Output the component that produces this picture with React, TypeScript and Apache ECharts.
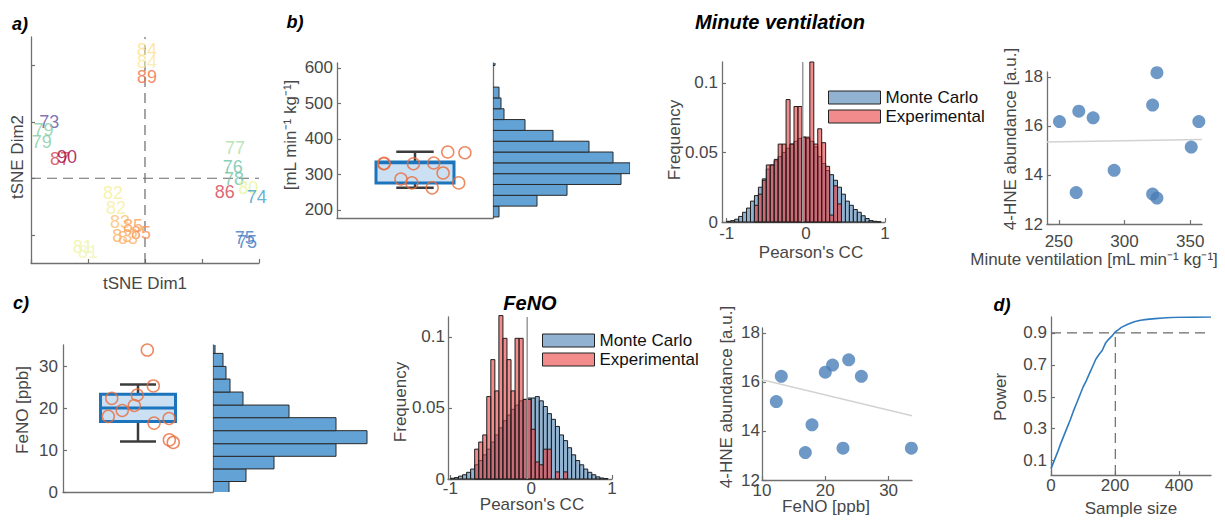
import React, { useEffect, useRef } from "react";
import * as echarts from "echarts";

const FONT = "'Liberation Sans', Arial, Helvetica, sans-serif";
const AXIS_COLOR = "#707070";
const TEXT_COLOR = "#474747";

// ---------- Panel a: tSNE embedding (labels are subject numbers) ----------
const tsneLabels = ["84","84","89","73","79","79","87","90","82","82","83","83","85","85","83","81","81","77","76","78","86","80","74","75","75"];
const tsneX = [2.035,2.035,2.035,0.32,0.22,0.19,0.51,0.63,1.44,1.49,1.56,1.6,1.79,1.93,1.7,0.91,1.0,3.58,3.54,3.56,3.4,3.81,3.96,3.75,3.79];
const tsneY = [3.27,3.06,2.79,2.0,1.85,1.64,1.34,1.38,0.74,0.47,0.23,-0.02,0.155,0.03,-0.06,-0.22,-0.31,1.54,1.2,0.99,0.76,0.83,0.67,-0.06,-0.13];
const tsneColors = ["#FEE08B","#FDE79C","#F46D43","#5E4FA2","#80CBA3","#80CBA3","#D53E4F","#9E0142","#F5EE9C","#F5EE9C","#FDBF6F","#FDAE61","#FB9D59","#F98E52","#FDB366","#EEF3A6","#F1F5B0","#ABDDA4","#66C2A5","#6CC4A4","#D53E4F","#E6F598","#3E9DC8","#3A78C2","#3A78C2"];
const tsneCrossX = 2;
const tsneCrossY = 1;

// ---------- Panel b: minute ventilation ----------
const mvBoxStats = [262, 276, 333, 335, 364]; // min, q1, median, q3, max
const mvPoints = [330, 331, 287, 276, 330, 262, 332, 304, 363, 276, 361];
const mvJitter = [0.30, 0.302, 0.41, 0.48, 0.49, 0.61, 0.62, 0.68, 0.71, 0.78, 0.82];
const mvHistEdges = [180, 210.5, 241, 271.5, 302, 332.5, 363, 393.5, 424, 454.5, 485, 515.5, 546, 576.5, 607, 637.5];
const mvHistCounts = [6, 44, 74, 128, 137, 120, 96, 60, 32, 11, 8, 6, 0, 0, 2];
const mvTicks = [200, 300, 400, 500, 600];

const ccEdges = [-1,-0.95,-0.9,-0.85,-0.8,-0.75,-0.7,-0.65,-0.6,-0.55,-0.5,-0.45,-0.4,-0.35,-0.3,-0.25,-0.2,-0.15,-0.1,-0.05,0,0.05,0.1,0.15,0.2,0.25,0.3,0.35,0.4,0.45,0.5,0.55,0.6,0.65,0.7,0.75,0.8,0.85,0.9,0.95,1];
const ccTicks = [-1, 0, 1];
const freqTicks = [0, 0.05, 0.1];
const mvMonteCarlo = [0.0005,0.001,0.002,0.004,0.007,0.010,0.015,0.019,0.025,0.031,0.038,0.041,0.044,0.047,0.050,0.053,0.056,0.058,0.060,0.061,0.060,0.058,0.054,0.047,0.042,0.037,0.034,0.030,0.025,0.020,0.015,0.012,0.009,0.007,0.0045,0.0025,0.001,0.0005,0.0002,0];
const mvExperimental = [0,0,0,0,0,0,0,0.012,0.020,0.030,0.041,0.041,0.045,0.056,0.056,0.088,0.056,0.083,0.083,0.061,0.061,0.115,0.056,0.067,0.057,0.040,0.005,0.026,0.013,0,0,0,0,0,0,0,0,0,0,0];
const mvObservedR = -0.04;

const mvScatterX = [250.5, 265.2, 276.1, 263.2, 292.1, 321.4, 324.7, 321.4, 324.7, 350.8, 356.6];
const mvScatterY = [16.18, 16.6, 16.33, 13.28, 14.19, 16.85, 18.17, 13.22, 13.06, 15.14, 16.18];
const mvFit = [[241, 15.34], [359, 15.45]];
const mvScatterTicks = [250, 300, 350];
const hneTicks = [12, 14, 16, 18];

// ---------- Panel c: FeNO ----------
const feBoxStats = [12.0, 16.8, 20.0, 23.3, 25.6];
const fePoints = [33.8, 25.25, 22.3, 23.1, 19.4, 20.6, 18.0, 16.4, 17.5, 12.4, 11.8];
const feJitter = [0.562, 0.602, 0.325, 0.495, 0.395, 0.475, 0.302, 0.607, 0.707, 0.709, 0.735];
const feHistEdges = [-0.5, 2.5, 5.5, 8.5, 11.5, 14.6, 17.7, 20.7, 23.8, 26.9, 29.9, 33.0, 36.0];
const feHistCounts = [16, 33, 61, 123, 154, 123, 76, 30, 17, 13, 10, 2];
const feTicks = [0, 10, 20, 30];

const feMonteCarlo = [0.0005,0.001,0.002,0.003,0.0047,0.007,0.010,0.013,0.017,0.021,0.026,0.031,0.036,0.041,0.045,0.049,0.052,0.055,0.056,0.057,0.057,0.058,0.055,0.051,0.046,0.042,0.037,0.031,0.027,0.022,0.017,0.013,0.010,0.007,0.0047,0.003,0.0015,0.0007,0.0003,0];
const feExperimental = [0,0,0,0,0,0,0.021,0.026,0.031,0.058,0.084,0.062,0.115,0.099,0.084,0.062,0.099,0.099,0.056,0.056,0.035,0.012,0.010,0.021,0.021,0,0.005,0,0.005,0,0,0,0,0,0,0,0,0,0,0];
const feObservedR = -0.05;

const feScatterX = [18.15, 13.05, 12.26, 20.0, 21.15, 23.7, 25.7, 17.9, 16.85, 22.8, 33.6];
const feScatterY = [18.27, 16.23, 15.2, 16.4, 16.69, 16.9, 16.23, 14.25, 13.12, 13.3, 13.3];
const feFit = [[10, 16.09], [33.7, 14.62]];
const feScatterTicks = [10, 20, 30];

// ---------- Panel d: power analysis ----------
const powerN = [0,10,20,30,40,50,60,70,80,90,100,110,120,130,140,150,160,170,180,190,200,210,220,240,260,280,300,325,350,375,400,450,500];
const powerVal = [0.05,0.10,0.15,0.205,0.255,0.305,0.355,0.41,0.46,0.51,0.56,0.60,0.645,0.69,0.735,0.765,0.79,0.835,0.86,0.88,0.905,0.92,0.935,0.955,0.97,0.98,0.985,0.99,0.994,0.997,0.998,0.999,1.0];
const powerTarget = 0.9;
const powerSampleSize = 201;
const powerTicks = [0.1, 0.3, 0.5, 0.7, 0.9];
const sampleTicks = [0, 200, 400];

// ---------- styling ----------
const BLUE_FILL = "rgba(72,127,177,0.6)";
const RED_FILL = "rgba(233,63,63,0.6)";
const BLUE_LEGEND = "#91B2D0";
const RED_LEGEND = "#F28C8C";
const MARGINAL_FILL = "#62A2D5";
const DOT = "#4A7EB6";
const ORANGE = "#EA6B3C";
const BOX_FILL = "#CBE0F2";
const BOX_EDGE = "#1C75BC";
const WHISKER = "#3C3C3C";

type AxOpts = {
  grid: number; min: number; max: number; labels?: number[]; ticks?: number[];
  margin?: number; interval?: number; hidden?: boolean;
};
function axis(o: AxOpts): any {
  const tickValues = o.ticks || o.labels;
  return {
    type: "value",
    gridIndex: o.grid,
    min: o.min,
    max: o.max,
    show: !o.hidden,
    ...(o.interval ? { interval: o.interval } : {}),
    axisLine: { show: true, onZero: false, lineStyle: { color: AXIS_COLOR, width: 1.3 } },
    axisTick: tickValues || o.interval
      ? { show: true, inside: true, length: 4, lineStyle: { color: AXIS_COLOR, width: 1.2 }, ...(tickValues ? { customValues: tickValues } : {}) }
      : { show: false },
    axisLabel: o.labels
      ? { show: true, customValues: o.labels, fontSize: 17, color: TEXT_COLOR, fontFamily: FONT, margin: o.margin ?? 5 }
      : { show: false },
    splitLine: { show: false },
  };
}

function boxRender(params: any, api: any) {
  const mn = api.value(0), q1 = api.value(1), md = api.value(2), q3 = api.value(3), mx = api.value(4);
  const c = (x: number, y: number) => api.coord([x, y]);
  const boxL = 0.25, boxR = 0.75, capL = 0.38, capR = 0.62, mid = 0.5;
  const a = c(boxL, q3), b = c(boxR, q1);
  const wl = { stroke: WHISKER, lineWidth: 2.5 };
  const line = (p: number[], q: number[], style: any) => ({ type: "line", shape: { x1: p[0], y1: p[1], x2: q[0], y2: q[1] }, style });
  return {
    type: "group",
    children: [
      line(c(mid, q3), c(mid, mx), wl),
      line(c(capL, mx), c(capR, mx), wl),
      line(c(mid, q1), c(mid, mn), wl),
      line(c(capL, mn), c(capR, mn), wl),
      { type: "rect", shape: { x: a[0], y: a[1], width: b[0] - a[0], height: b[1] - a[1] }, style: { fill: BOX_FILL, stroke: BOX_EDGE, lineWidth: 3 } },
      line(c(boxL, md), c(boxR, md), { stroke: BOX_EDGE, lineWidth: 3 }),
    ],
  };
}

const vHistRender = (fill: string) => (params: any, api: any) => {
  const v = api.value(2);
  if (!v) return null;
  const p0 = api.coord([api.value(0), 0]);
  const p1 = api.coord([api.value(1), v]);
  return {
    type: "rect",
    shape: { x: p0[0], y: p1[1], width: p1[0] - p0[0], height: p0[1] - p1[1] },
    style: { fill, stroke: "#1E1E1E", lineWidth: 1 },
  };
};

function hHistRender(params: any, api: any) {
  const n = api.value(2);
  if (!n) return null;
  const p0 = api.coord([0, api.value(0)]);
  const p1 = api.coord([n, api.value(1)]);
  return {
    type: "rect",
    shape: { x: p0[0], y: p1[1], width: p1[0] - p0[0], height: p0[1] - p1[1] },
    style: { fill: MARGINAL_FILL, stroke: "#2A2A2A", lineWidth: 1 },
  };
}

const binData = (edges: number[], vals: number[]) => vals.map((v, i) => [edges[i], edges[i + 1], v]);

function txt(text: string, x: number, y: number, opts: any = {}) {
  return {
    type: "text",
    x, y,
    rotation: opts.rot ? Math.PI / 2 : 0,
    style: {
      text,
      fontSize: opts.size ?? 17,
      fontFamily: FONT,
      fontWeight: opts.bold ? "bold" : "normal",
      fontStyle: opts.italic ? "italic" : "normal",
      fill: opts.color ?? TEXT_COLOR,
      align: "center",
      verticalAlign: "middle",
      textAlign: "center",
      textVerticalAlign: "middle",
    },
  };
}

function buildOption(): any {
  const grids = [
    { left: 31, top: 37, width: 228, height: 226 },
    { left: 337, top: 63, width: 156, height: 155 },
    { left: 493, top: 63, width: 137, height: 155 },
    { left: 722, top: 62, width: 163, height: 160 },
    { left: 1047, top: 72, width: 155, height: 152 },
    { left: 63, top: 345, width: 150, height: 147 },
    { left: 213, top: 345, width: 155, height: 147 },
    { left: 448, top: 317, width: 164, height: 162 },
    { left: 762, top: 328, width: 150, height: 152 },
    { left: 1051, top: 317, width: 160, height: 158 },
  ];
  const xAxes = [
    axis({ grid: 0, min: 0, max: 4, interval: 1 }),
    axis({ grid: 1, min: 0, max: 1 }),
    axis({ grid: 2, min: 0, max: 137, hidden: true }),
    axis({ grid: 3, min: -1.06, max: 1, labels: ccTicks, margin: 3 }),
    axis({ grid: 4, min: 241, max: 359, labels: mvScatterTicks, margin: 9 }),
    axis({ grid: 5, min: 0, max: 1 }),
    axis({ grid: 6, min: 0, max: 155, hidden: true }),
    axis({ grid: 7, min: -1.03, max: 1, labels: ccTicks, margin: 1 }),
    axis({ grid: 8, min: 10, max: 33.7, labels: feScatterTicks, margin: 2 }),
    axis({ grid: 9, min: 0, max: 500, labels: sampleTicks, margin: 2 }),
  ];
  const yAxes = [
    axis({ grid: 0, min: -0.5, max: 3.5, ticks: [0, 1, 2, 3] }),
    axis({ grid: 1, min: 177, max: 614, labels: mvTicks, margin: 4 }),
    axis({ grid: 2, min: 177, max: 614 }),
    axis({ grid: 3, min: 0, max: 0.115, labels: freqTicks, margin: 4 }),
    axis({ grid: 4, min: 12, max: 18.2, labels: hneTicks, margin: 4 }),
    axis({ grid: 5, min: 0, max: 35, labels: feTicks, margin: 5 }),
    axis({ grid: 6, min: 0, max: 35 }),
    axis({ grid: 7, min: 0, max: 0.114, labels: freqTicks, margin: 3 }),
    axis({ grid: 8, min: 12, max: 18.2, labels: hneTicks, margin: 2 }),
    axis({ grid: 9, min: 0.01, max: 1, labels: powerTicks, margin: 4 }),
  ];

  const dashed = { color: "#6A6A6A", width: 1.2, type: [10, 6] };
  const lineSeries = (idx: number, data: number[][], lineStyle: any, name = "") => ({
    type: "line", name, xAxisIndex: idx, yAxisIndex: idx, data, symbol: "none",
    lineStyle, silent: true, z: 3,
  });

  const series: any[] = [
    // Panel a
    lineSeries(0, [[tsneCrossX, -0.5], [tsneCrossX, 3.5]], dashed),
    lineSeries(0, [[0, tsneCrossY], [4, tsneCrossY]], dashed),
    {
      type: "scatter", xAxisIndex: 0, yAxisIndex: 0, symbolSize: 1,
      itemStyle: { color: "rgba(0,0,0,0)" },
      label: { show: true, position: "inside", formatter: "{b}", fontSize: 18, fontFamily: FONT },
      data: tsneLabels.map((l, i) => ({ name: l, value: [tsneX[i], tsneY[i]], label: { color: tsneColors[i] } })),
      z: 4,
    },
    // Panel b box
    { type: "custom", xAxisIndex: 1, yAxisIndex: 1, renderItem: boxRender, data: [mvBoxStats], z: 2 },
    {
      type: "scatter", xAxisIndex: 1, yAxisIndex: 1, symbol: "circle", symbolSize: 12,
      itemStyle: { color: "rgba(0,0,0,0)", borderColor: ORANGE, borderWidth: 1.5 },
      data: mvJitter.map((j, i) => [j, mvPoints[i]]), z: 5,
    },
    { type: "custom", xAxisIndex: 2, yAxisIndex: 2, renderItem: hHistRender, clip: true, data: binData(mvHistEdges, mvHistCounts) },
    // Panel b CC histogram
    { type: "custom", name: "Monte Carlo", xAxisIndex: 3, yAxisIndex: 3, renderItem: vHistRender(BLUE_FILL), itemStyle: { color: BLUE_LEGEND }, data: binData(ccEdges, mvMonteCarlo), z: 2 },
    { type: "custom", name: "Experimental", xAxisIndex: 3, yAxisIndex: 3, renderItem: vHistRender(RED_FILL), itemStyle: { color: RED_LEGEND }, data: binData(ccEdges, mvExperimental), z: 3 },
    lineSeries(3, [[mvObservedR, 0], [mvObservedR, 0.115]], { color: "#9A9A9A", width: 1.5 }),
    // Panel b scatter
    lineSeries(4, mvFit, { color: "#D2D2D2", width: 1.5 }),
    { type: "scatter", xAxisIndex: 4, yAxisIndex: 4, symbolSize: 13, itemStyle: { color: DOT }, data: mvScatterX.map((x, i) => [x, mvScatterY[i]]), z: 4 },
    // Panel c box
    { type: "custom", xAxisIndex: 5, yAxisIndex: 5, renderItem: boxRender, data: [feBoxStats], z: 2 },
    {
      type: "scatter", xAxisIndex: 5, yAxisIndex: 5, symbol: "circle", symbolSize: 12,
      itemStyle: { color: "rgba(0,0,0,0)", borderColor: ORANGE, borderWidth: 1.5 },
      data: feJitter.map((j, i) => [j, fePoints[i]]), z: 5,
    },
    { type: "custom", xAxisIndex: 6, yAxisIndex: 6, renderItem: hHistRender, clip: true, data: binData(feHistEdges, feHistCounts) },
    // Panel c CC histogram
    { type: "custom", name: "Monte Carlo", xAxisIndex: 7, yAxisIndex: 7, renderItem: vHistRender(BLUE_FILL), itemStyle: { color: BLUE_LEGEND }, data: binData(ccEdges, feMonteCarlo), z: 2 },
    { type: "custom", name: "Experimental", xAxisIndex: 7, yAxisIndex: 7, renderItem: vHistRender(RED_FILL), itemStyle: { color: RED_LEGEND }, data: binData(ccEdges, feExperimental), z: 3 },
    lineSeries(7, [[feObservedR, 0], [feObservedR, 0.114]], { color: "#9A9A9A", width: 1.5 }),
    // Panel c scatter
    lineSeries(8, feFit, { color: "#D2D2D2", width: 1.5 }),
    { type: "scatter", xAxisIndex: 8, yAxisIndex: 8, symbolSize: 13, itemStyle: { color: DOT }, data: feScatterX.map((x, i) => [x, feScatterY[i]]), z: 4 },
    // Panel d
    lineSeries(9, [[0, powerTarget], [500, powerTarget]], dashed),
    lineSeries(9, [[powerSampleSize, 0.01], [powerSampleSize, powerTarget]], dashed),
    lineSeries(9, powerN.map((n, i) => [n, powerVal[i]]), { color: "#2F7BC0", width: 1.6 }),
  ];

  const legendBase = {
    orient: "vertical", itemWidth: 52, itemHeight: 13, itemGap: 2, icon: "rect", padding: 0,
    selectedMode: false,
    textStyle: { fontSize: 17, color: "#111", fontFamily: FONT, lineHeight: 13 },
    itemStyle: { borderColor: "#222", borderWidth: 1 },
    data: [
      { name: "Monte Carlo", itemStyle: { color: BLUE_LEGEND, borderColor: "#222", borderWidth: 1 } },
      { name: "Experimental", itemStyle: { color: RED_LEGEND, borderColor: "#222", borderWidth: 1 } },
    ],
  };

  const graphics = [
    txt("a)", 20, 24, { bold: true, italic: true, size: 18, color: "#000" }),
    txt("b)", 295, 22, { bold: true, italic: true, size: 18, color: "#000" }),
    txt("c)", 21, 303, { bold: true, italic: true, size: 18, color: "#000" }),
    txt("d)", 1002, 305, { bold: true, italic: true, size: 18, color: "#000" }),
    txt("Minute ventilation", 780, 22, { bold: true, italic: true, size: 20, color: "#000" }),
    txt("FeNO", 530, 303, { bold: true, italic: true, size: 20, color: "#000" }),
    txt("tSNE Dim1", 145, 283),
    txt("tSNE Dim2", 17, 157, { rot: true }),
    txt("[mL min⁻¹ kg⁻¹]", 290, 135, { rot: true }),
    txt("Frequency", 674, 140, { rot: true }),
    txt("Pearson's CC", 811, 252),
    txt("4-HNE abundance [a.u.]", 1010, 139, { rot: true }),
    txt("Minute ventilation [mL min⁻¹ kg⁻¹]", 1094, 259),
    txt("FeNO [ppb]", 22, 410, { rot: true }),
    txt("Frequency", 400, 402, { rot: true }),
    txt("Pearson's CC", 532, 504),
    txt("4-HNE abundance [a.u.]", 726, 397, { rot: true }),
    txt("FeNO [ppb]", 826, 506),
    txt("Power", 1000, 397, { rot: true }),
    txt("Sample size", 1131, 508),
  ];

  return {
    animation: false,
    backgroundColor: "#ffffff",
    textStyle: { fontFamily: FONT },
    grid: grids.map((g) => ({ ...g, containLabel: false })),
    xAxis: xAxes,
    yAxis: yAxes,
    legend: [
      { ...legendBase, left: 828, top: 89 },
      { ...legendBase, left: 542, top: 332 },
    ],
    graphic: graphics,
    series,
  };
}

export default function App() {
  const ref = useRef<HTMLDivElement>(null);
  useEffect(() => {
    if (!ref.current) return;
    const chart = echarts.init(ref.current, undefined, { renderer: "svg" });
    chart.setOption(buildOption());
    return () => chart.dispose();
  }, []);
  return (
    <div
      ref={ref}
      style={{ position: "fixed", left: 0, top: 0, width: 1225, height: 522, background: "#fff" }}
    />
  );
}
